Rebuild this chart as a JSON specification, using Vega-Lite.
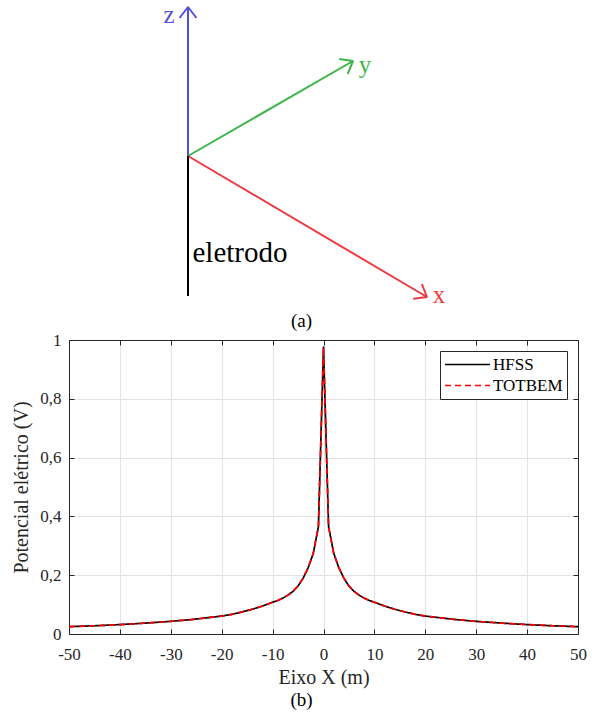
{
  "$schema": "https://vega.github.io/schema/vega-lite/v6.json",
  "padding": {"left": 11, "top": 0, "right": 0, "bottom": 0},
  "background": "white",
  "spacing": 0,
  "config": {"font": "Liberation Serif", "view": {"stroke": null}},
  "resolve": {"scale": {"color": "independent", "strokeDash": "independent", "x": "independent", "y": "independent"}, "legend": {"color": "independent", "strokeDash": "independent"}},
  "datasets": {
    "diagram": [
      {"eixo": "z", "k": 0, "u": 0, "w": 0},
      {"eixo": "z", "k": 1, "u": 0, "w": 149},
      {"eixo": "z", "k": 2, "u": -8.5, "w": 138},
      {"eixo": "z", "k": 3, "u": 0, "w": 149},
      {"eixo": "z", "k": 4, "u": 8.5, "w": 138},
      {"eixo": "y", "k": 0, "u": 0, "w": 0},
      {"eixo": "y", "k": 1, "u": 165, "w": 95},
      {"eixo": "y", "k": 2, "u": 151.2, "w": 96.9},
      {"eixo": "y", "k": 3, "u": 165, "w": 95},
      {"eixo": "y", "k": 4, "u": 159.7, "w": 82.1},
      {"eixo": "x", "k": 0, "u": 0, "w": 0},
      {"eixo": "x", "k": 1, "u": 239, "w": -141},
      {"eixo": "x", "k": 2, "u": 233.9, "w": -128.1},
      {"eixo": "x", "k": 3, "u": 239, "w": -141},
      {"eixo": "x", "k": 4, "u": 225.2, "w": -142.7},
      {"eixo": "eletrodo", "k": 0, "u": 0, "w": 0},
      {"eixo": "eletrodo", "k": 1, "u": 0, "w": -140}
    ],
    "rotulos": [
      {"eixo": "z", "texto": "z", "u": -19, "w": 133},
      {"eixo": "y", "texto": "y", "u": 177, "w": 83},
      {"eixo": "x", "texto": "x", "u": 251, "w": -147},
      {"eixo": "eletrodo", "texto": "eletrodo", "u": 52, "w": -106}
    ],
    "potencial": [
      {"x": -50, "HFSS": 0.025, "TOTBEM": 0.025},
      {"x": -45, "HFSS": 0.028, "TOTBEM": 0.028},
      {"x": -40, "HFSS": 0.032, "TOTBEM": 0.032},
      {"x": -35, "HFSS": 0.037, "TOTBEM": 0.037},
      {"x": -30, "HFSS": 0.043, "TOTBEM": 0.043},
      {"x": -26, "HFSS": 0.049, "TOTBEM": 0.049},
      {"x": -23, "HFSS": 0.055, "TOTBEM": 0.055},
      {"x": -20, "HFSS": 0.061, "TOTBEM": 0.061},
      {"x": -18, "HFSS": 0.067, "TOTBEM": 0.067},
      {"x": -16, "HFSS": 0.075, "TOTBEM": 0.075},
      {"x": -14, "HFSS": 0.084, "TOTBEM": 0.084},
      {"x": -12, "HFSS": 0.095, "TOTBEM": 0.095},
      {"x": -10, "HFSS": 0.108, "TOTBEM": 0.108},
      {"x": -9, "HFSS": 0.114, "TOTBEM": 0.114},
      {"x": -8, "HFSS": 0.122, "TOTBEM": 0.122},
      {"x": -7, "HFSS": 0.132, "TOTBEM": 0.132},
      {"x": -6, "HFSS": 0.145, "TOTBEM": 0.145},
      {"x": -5, "HFSS": 0.163, "TOTBEM": 0.163},
      {"x": -4, "HFSS": 0.19, "TOTBEM": 0.19},
      {"x": -3, "HFSS": 0.226, "TOTBEM": 0.226},
      {"x": -2, "HFSS": 0.275, "TOTBEM": 0.275},
      {"x": -1, "HFSS": 0.365, "TOTBEM": 0.365},
      {"x": 0, "HFSS": 0.978, "TOTBEM": 0.975},
      {"x": 1, "HFSS": 0.365, "TOTBEM": 0.365},
      {"x": 2, "HFSS": 0.275, "TOTBEM": 0.275},
      {"x": 3, "HFSS": 0.226, "TOTBEM": 0.226},
      {"x": 4, "HFSS": 0.19, "TOTBEM": 0.19},
      {"x": 5, "HFSS": 0.163, "TOTBEM": 0.163},
      {"x": 6, "HFSS": 0.145, "TOTBEM": 0.145},
      {"x": 7, "HFSS": 0.132, "TOTBEM": 0.132},
      {"x": 8, "HFSS": 0.122, "TOTBEM": 0.122},
      {"x": 9, "HFSS": 0.114, "TOTBEM": 0.114},
      {"x": 10, "HFSS": 0.108, "TOTBEM": 0.108},
      {"x": 12, "HFSS": 0.095, "TOTBEM": 0.095},
      {"x": 14, "HFSS": 0.084, "TOTBEM": 0.084},
      {"x": 16, "HFSS": 0.075, "TOTBEM": 0.075},
      {"x": 18, "HFSS": 0.067, "TOTBEM": 0.067},
      {"x": 20, "HFSS": 0.061, "TOTBEM": 0.061},
      {"x": 23, "HFSS": 0.055, "TOTBEM": 0.055},
      {"x": 26, "HFSS": 0.049, "TOTBEM": 0.049},
      {"x": 30, "HFSS": 0.043, "TOTBEM": 0.043},
      {"x": 35, "HFSS": 0.037, "TOTBEM": 0.037},
      {"x": 40, "HFSS": 0.032, "TOTBEM": 0.032},
      {"x": 45, "HFSS": 0.028, "TOTBEM": 0.028},
      {"x": 50, "HFSS": 0.025, "TOTBEM": 0.025}
    ]
  },
  "vconcat": [
    {
      "width": 509,
      "height": 310,
      "title": {"text": "(a)", "orient": "bottom", "anchor": "middle", "dx": -22, "offset": 2, "fontSize": 19, "fontWeight": "normal", "color": "#000000", "font": "Liberation Serif"},
      "layer": [
        {
          "data": {"name": "diagram"},
          "mark": {"type": "line", "strokeWidth": 2, "strokeJoin": "bevel", "clip": false},
          "encoding": {
            "x": {"field": "u", "type": "quantitative", "scale": {"domain": [-119, 390], "nice": false, "zero": false}, "axis": null},
            "y": {"field": "w", "type": "quantitative", "scale": {"domain": [-154, 156], "nice": false, "zero": false}, "axis": null},
            "order": {"field": "k", "type": "quantitative"},
            "color": {"field": "eixo", "type": "nominal", "scale": {"domain": ["x", "y", "z", "eletrodo"], "range": ["#ee3a43", "#3cb54a", "#5050dc", "#000000"]}, "legend": null}
          }
        },
        {
          "data": {"name": "rotulos"},
          "transform": [{"filter": "datum.eixo != 'eletrodo'"}],
          "mark": {"type": "text", "baseline": "alphabetic", "align": "center", "fontSize": 25, "font": "Liberation Serif"},
          "encoding": {
            "x": {"field": "u", "type": "quantitative"},
            "y": {"field": "w", "type": "quantitative"},
            "text": {"field": "texto"},
            "color": {"field": "eixo", "type": "nominal", "legend": null}
          }
        },
        {
          "data": {"name": "rotulos"},
          "transform": [{"filter": "datum.eixo == 'eletrodo'"}],
          "mark": {"type": "text", "baseline": "alphabetic", "align": "center", "fontSize": 29, "font": "Liberation Serif"},
          "encoding": {
            "x": {"field": "u", "type": "quantitative"},
            "y": {"field": "w", "type": "quantitative"},
            "text": {"field": "texto"},
            "color": {"field": "eixo", "type": "nominal", "legend": null}
          }
        }
      ]
    },
    {
      "width": 509,
      "height": 294,
      "title": {"text": "(b)", "orient": "bottom", "anchor": "middle", "dx": -22, "offset": 4, "fontSize": 19, "fontWeight": "normal", "color": "#000000", "font": "Liberation Serif"},
      "data": {"name": "potencial"},
      "transform": [{"fold": ["HFSS", "TOTBEM"], "as": ["serie", "v"]}],
      "layer": [
        {
          "mark": {"type": "line", "strokeWidth": 1.7},
          "encoding": {
            "x": {"field": "x", "type": "quantitative", "scale": {"domain": [-50, 50], "nice": false},
              "axis": {"orient": "bottom", "title": "Eixo X (m)", "values": [-50, -40, -30, -20, -10, 0, 10, 20, 30, 40, 50], "labelExpr": "datum.value < 0 ? '-' + abs(datum.value) : '' + datum.value", "tickSize": -5, "labelPadding": 17, "labelFlush": false, "labelFont": "Liberation Serif", "labelFontSize": 17, "labelColor": "#262626", "titleFont": "Liberation Serif", "titleFontSize": 20, "titleFontWeight": "normal", "titleColor": "#262626", "titlePadding": 5, "domainColor": "#262626", "tickColor": "#262626", "gridColor": "#e3e3e3", "grid": true}},
            "y": {"field": "v", "type": "quantitative", "scale": {"domain": [0, 1], "nice": false},
              "axis": {"orient": "left", "title": "Potencial elétrico (V)", "values": [0, 0.2, 0.4, 0.6, 0.8, 1], "labelExpr": "replace(format(datum.value, '.1~f'), '.', ',')", "tickSize": -5, "labelPadding": 13, "labelFlush": false, "labelFont": "Liberation Serif", "labelFontSize": 17, "labelColor": "#262626", "titleFont": "Liberation Serif", "titleFontSize": 20, "titleFontWeight": "normal", "titleColor": "#262626", "titlePadding": 8, "domainColor": "#262626", "tickColor": "#262626", "gridColor": "#e3e3e3", "grid": true}},
            "color": {"field": "serie", "type": "nominal", "scale": {"domain": ["HFSS", "TOTBEM"], "range": ["#000000", "#ff0000"]},
              "legend": {"title": null, "orient": "top-right", "offset": 11, "fillColor": "white", "strokeColor": "#262626", "padding": 4, "symbolType": "stroke", "symbolSize": 2025, "symbolStrokeWidth": 1.7, "clipHeight": 19, "rowPadding": 2, "labelFont": "Liberation Serif", "labelFontSize": 17, "labelColor": "#000000", "labelOffset": 2, "symbolOffset": 0}},
            "strokeDash": {"field": "serie", "type": "nominal", "scale": {"domain": ["HFSS", "TOTBEM"], "range": [[1, 0], [6, 4]]},
              "legend": {"title": null, "orient": "top-right", "offset": 11, "fillColor": "white", "strokeColor": "#262626", "padding": 4, "symbolType": "stroke", "symbolSize": 2025, "symbolStrokeWidth": 1.7, "clipHeight": 19, "rowPadding": 2, "labelFont": "Liberation Serif", "labelFontSize": 17, "labelColor": "#000000", "labelOffset": 2, "symbolOffset": 0}}
          }
        },
        {
          "mark": {"type": "line", "opacity": 0},
          "encoding": {
            "x": {"field": "x", "type": "quantitative", "axis": {"orient": "top", "title": null, "labels": false, "grid": false, "values": [-50, -40, -30, -20, -10, 0, 10, 20, 30, 40, 50], "tickSize": -5, "domainColor": "#262626", "tickColor": "#262626"}},
            "y": {"field": "v", "type": "quantitative", "axis": {"orient": "right", "title": null, "labels": false, "grid": false, "values": [0, 0.2, 0.4, 0.6, 0.8, 1], "tickSize": -5, "domainColor": "#262626", "tickColor": "#262626"}},
            "detail": {"field": "serie"}
          }
        }
      ],
      "resolve": {"axis": {"x": "independent", "y": "independent"}}
    }
  ]
}
